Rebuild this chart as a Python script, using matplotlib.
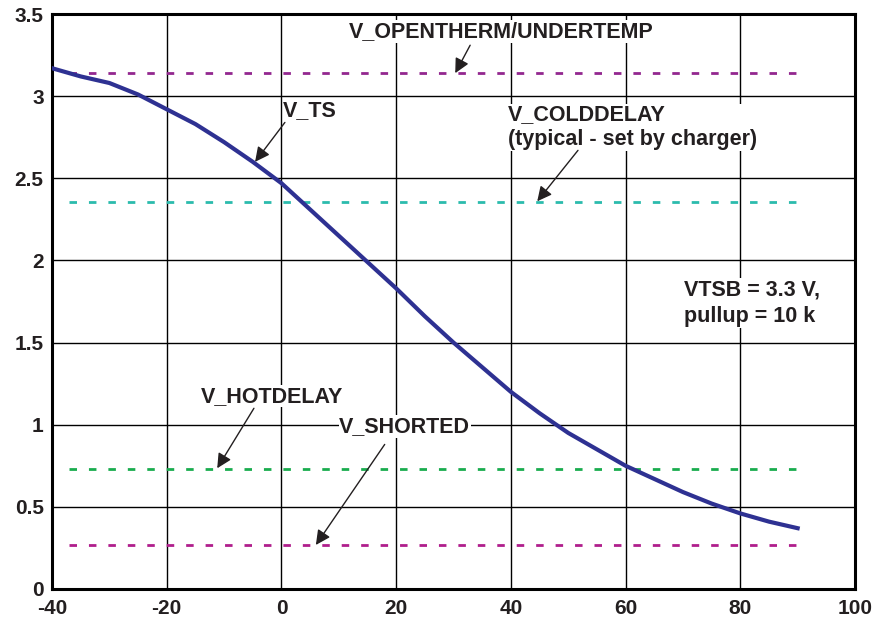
import matplotlib
matplotlib.use("Agg")
import matplotlib.pyplot as plt
import numpy as np

plt.rcParams['font.family'] = ['Liberation Sans', 'DejaVu Sans']
plt.rcParams['font.weight'] = 'bold'
plt.rcParams['axes.unicode_minus'] = False

# temperature (degC) and TS voltage
temp = [-40, -35, -30, -25, -20, -15, -10, -5, 0, 5, 10, 15, 20, 25, 30,
        35, 40, 45, 50, 55, 60, 65, 70, 75, 80, 85, 90]
v_ts = [3.17, 3.12, 3.08, 3.01, 2.92, 2.83, 2.72, 2.60, 2.47, 2.31, 2.15, 1.99,
        1.83, 1.66, 1.50, 1.35, 1.20, 1.07, 0.95, 0.85, 0.75, 0.67, 0.59,
        0.52, 0.46, 0.41, 0.37]

# threshold levels (V)
levels = [3.14, 2.355, 0.73, 0.268]
level_colors = ['#93278F', '#2BBBAD', '#19AC4E', '#B01E8C']
level_range = [-37, 90]

# labels: text, text pos, arrow tip
labels = ['V_OPENTHERM/UNDERTEMP', 'V_TS', 'V_COLDDELAY\n(typical - set by charger)',
          'V_HOTDELAY', 'V_SHORTED']
label_pos = [(38.3, 3.33), (5.0, 2.85), (39.5, 2.67), (-1.6, 1.11), (21.5, 0.925)]
label_tip = [(30.3, 3.14), (-4.6, 2.60), (44.6, 2.36), (-11.2, 0.735), (6.0, 0.268)]
label_tail = [(32.9, 3.31), (0.6, 2.84), (51.7, 2.67), (-4.8, 1.10), (18.0, 0.88)]

note = 'VTSB = 3.3 V,\npullup = 10 k'

txt = '#231F20'

fig = plt.figure(figsize=(8.79, 6.17), dpi=100)
ax = fig.add_axes([0.0592, 0.0454, 0.9135, 0.9319])

ax.plot(temp, v_ts, color='#2E3192', lw=3.0, zorder=4)

for lv, c in zip(levels, level_colors):
    ln, = ax.plot(level_range, [lv, lv], color=c, lw=2.0, zorder=3)
    ln.set_dashes((2.7, 4.3))

for t, p, tip, tail in zip(labels, label_pos, label_tip, label_tail):
    ax.text(p[0], p[1], t, ha='center' if '\n' not in t else 'left',
            va='bottom', fontsize=15.5, color=txt, fontweight='bold',
            linespacing=1.25, zorder=5,
            bbox=dict(facecolor='white', edgecolor='none', pad=0.5))
    ax.annotate('', xy=tip, xytext=tail,
                arrowprops=dict(arrowstyle='-|>', color=txt, lw=1.0,
                                mutation_scale=22, shrinkA=0, shrinkB=0),
                zorder=6)

ax.text(70.2, 1.74, note, ha='left', va='center', fontsize=15.5, color=txt,
        fontweight='bold', linespacing=1.3, zorder=5,
        bbox=dict(facecolor='white', edgecolor='none', pad=1))

ax.set_xlim(-40, 100)
ax.set_ylim(0, 3.5)
ax.set_xticks(np.arange(-40, 101, 20))
ax.set_yticks(np.arange(0, 3.51, 0.5))
ax.set_yticklabels(['0', '0.5', '1', '1.5', '2', '2.5', '3', '3.5'])
ax.grid(True, color='black', lw=1.0)
ax.set_axisbelow(True)
ax.tick_params(length=0, labelsize=15, labelcolor=txt)
ax.tick_params(axis='x', pad=7)
ax.tick_params(axis='y', pad=6)
for lab in ax.get_xticklabels() + ax.get_yticklabels():
    lab.set_fontweight('bold')
for s in ax.spines.values():
    s.set_linewidth(2.2)
    s.set_color('black')

fig.savefig('out.png', dpi=100)
